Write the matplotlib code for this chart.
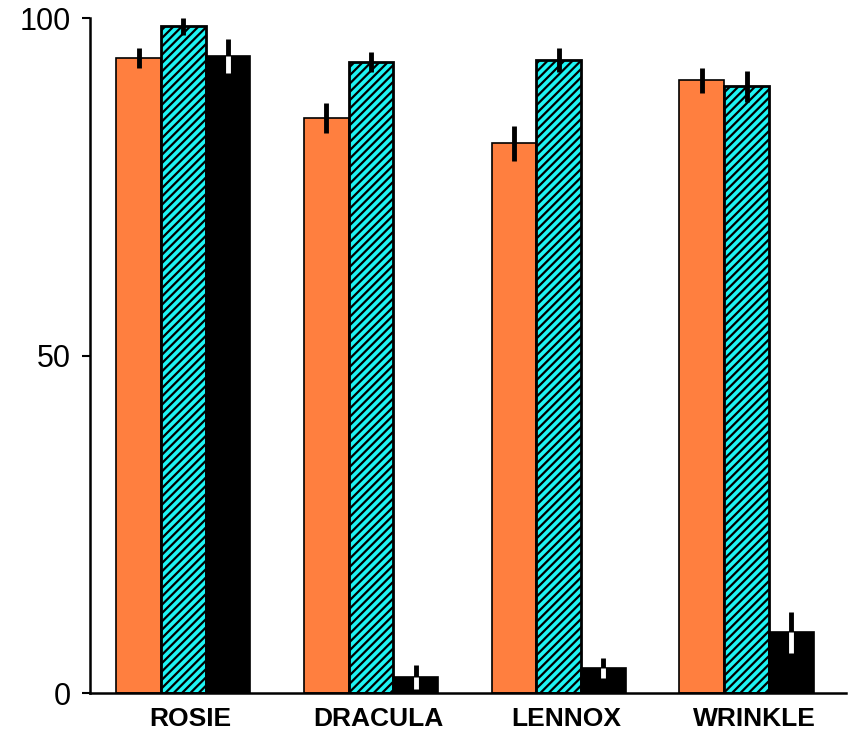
import numpy as np
import matplotlib.pyplot as plt

plt.rcParams['font.family'] = ['Liberation Sans', 'DejaVu Sans']
plt.rcParams['hatch.linewidth'] = 1.6

dogs = ['ROSIE', 'DRACULA', 'LENNOX', 'WRINKLE']
orange_vals = [94.1, 85.2, 81.5, 90.8]
orange_err = [1.5, 2.2, 2.6, 1.8]
cyan_vals = [98.8, 93.5, 93.8, 89.9]
cyan_err = [1.3, 1.5, 1.8, 2.3]
black_vals = [94.4, 2.4, 3.7, 9.0]
black_err = [2.5, 1.8, 1.5, 3.0]

x = np.arange(len(dogs))
w = 0.238

fig = plt.figure(figsize=(8.52, 7.32), dpi=100)
ax = fig.add_axes([0.106, 0.053, 0.887, 0.922])

ax.bar(x - w, orange_vals, w, color='#ff7f3f', edgecolor='black', linewidth=1.2)
ax.bar(x, cyan_vals, w, color='#1ef4f4', edgecolor='black', linewidth=2, hatch='////')
ax.bar(x + w, black_vals, w, color='black', edgecolor='black', linewidth=1.2)

# short vertical error marks
for off, v, e in [(-w, orange_vals, orange_err), (0, cyan_vals, cyan_err), (w, black_vals, black_err)]:
    ax.errorbar(x + off, v, yerr=e, fmt='none', ecolor='black', elinewidth=3.5, capsize=0)

# lower half of the marks shows white inside the black bars
ax.vlines(x + w, np.array(black_vals) - np.array(black_err), black_vals, color='white', linewidth=3.5)

ax.set_xlim(-0.495, 3.53)
ax.set_ylim(0, 100)
ax.set_yticks([0, 50, 100])
ax.set_yticklabels(['0', '50', '100'], fontsize=22)
ax.set_xticks(x + 0.04)
ax.set_xticklabels(dogs, fontsize=19, fontweight='bold')
ax.tick_params(axis='x', length=0, pad=10)
ax.tick_params(axis='y', length=6, width=1.5, pad=8)

for s in ['top', 'right']:
    ax.spines[s].set_visible(False)
ax.spines['left'].set_linewidth(1.8)
ax.spines['bottom'].set_linewidth(1.8)

fig.savefig('out.png', dpi=100)
